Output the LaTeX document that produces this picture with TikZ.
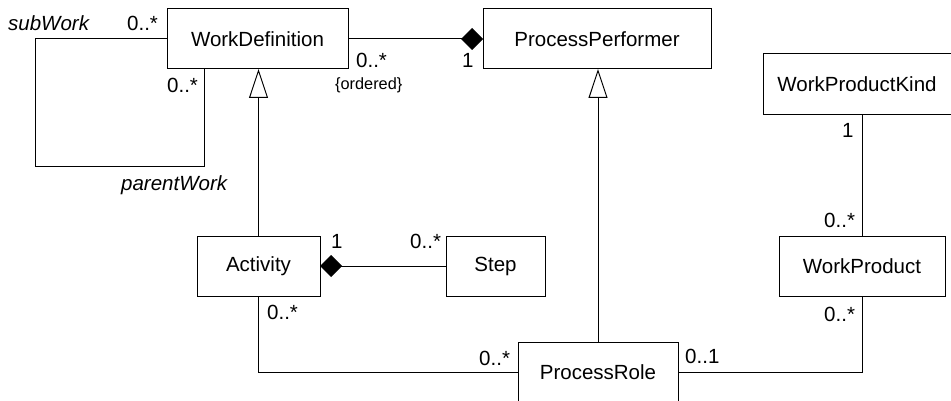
\documentclass[tikz,border=0pt]{standalone}
\usepackage{fontspec}
\setmainfont{Liberation Sans}
\usetikzlibrary{arrows.meta}
\begin{document}
\begin{tikzpicture}[x=1pt,y=-1pt,
  every node/.style={font=\fontsize{20.5}{24}\selectfont},
  cls/.style={draw, line width=1pt, rectangle, inner sep=0pt, outer sep=0pt, minimum height=60pt},
  conn/.style={line width=1pt},
  lbl/.style={anchor=base west, inner sep=0pt},
  role/.style={lbl, font=\fontsize{20.5}{24}\selectfont\itshape},
  small/.style={lbl, font=\fontsize{16.3}{19}\selectfont},
  comp/.style={{Diamond[length=22pt,width=22pt]}-},
  gen/.style={-{Triangle[open,length=29pt,width=19pt,fill=white]}}
]
\useasboundingbox (0,0) rectangle (951,401);

% classes
\node[cls, minimum width=181pt] (WD) at (257.5,39) {WorkDefinition};
\node[cls, minimum width=228pt] (PP) at (597,39) {ProcessPerformer};
\node[cls, minimum width=198pt, minimum height=61pt] (WPK) at (862,84.5) {\hspace*{-10pt}WorkProductKind};
\node[cls, minimum width=123pt] (Act) at (258.5,266) {Activity};
\node[cls, minimum width=99pt] (Step) at (495.5,266) {Step};
\node[cls, minimum width=166pt] (WP) at (862,266) {WorkProduct};
\node[cls, minimum width=160pt] (PR) at (598,372) {ProcessRole};

% self association
\coordinate (loopA) at (35,167);
\coordinate (loopB) at (204,167);
\draw[conn] (WD.west) -| (loopA) -- (loopB) -- (WD.south -| loopB);

% composition WD - PP
\draw[conn, -{Diamond[length=22pt,width=22pt]}] (WD.east) -- (PP.west);
% composition Activity - Step
\draw[conn, comp] (Act.east) -- (Step.west);

% generalizations
\draw[conn, gen] (Act.north) -- (Act.north |- WD.south);
\draw[conn, gen] (PR.north) -- (PR.north |- PP.south);

% associations
\draw[conn] (WPK.south) -- (WP.north);
\draw[conn] (Act.south) |- (PR.west);
\draw[conn] (PR.east) -| (WP.south);

% labels
\node[role] (lsub) at (8,31) {subWork};
\node[lbl] (lsubm) at (127,31) {0..*};
\node[lbl] (lparm) at (167,93) {0..*};
\node[role] (lpar) at (121,191) {parentWork};
\node[lbl] (lwdpp) at (356,68) {0..*};
\node[small] (lord) at (335,90) {\{ordered\}};
\node[lbl] (lpp1) at (462,68) {1};
\node[lbl] (lwpk1) at (842,138) {1};
\node[lbl] (lwptop) at (824,227) {0..*};
\node[lbl] (lwpbot) at (824,321) {0..*};
\node[lbl] (lpr01) at (685,363) {0..1};
\node[lbl] (lact1) at (331,248) {1};
\node[lbl] (lstep) at (410,248) {0..*};
\node[lbl] (lactb) at (267,319) {0..*};
\node[lbl] (lprl) at (479,365) {0..*};
\end{tikzpicture}
\end{document}
